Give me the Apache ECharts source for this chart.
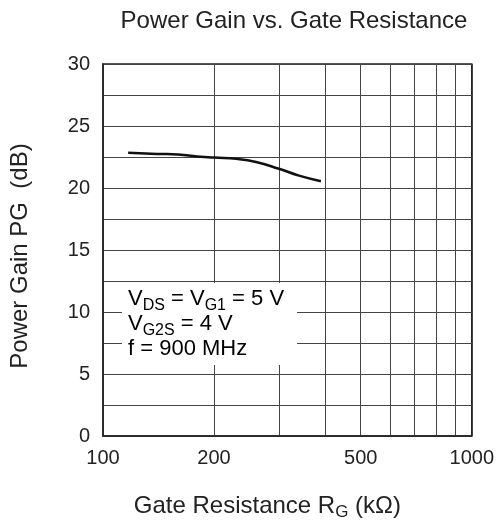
<!DOCTYPE html>
<html>
<head>
<meta charset="utf-8">
<script src="https://cdn.jsdelivr.net/npm/echarts@6/dist/echarts.min.js"></script>
<style>html,body{margin:0;padding:0;background:#fff;}#c{width:497px;height:526px;}</style>
</head>
<body>
<div id="c"></div>
<script>
const resistance = [117, 140, 160, 180, 200, 230, 260, 300, 340, 390];
const powerGain = [22.85, 22.75, 22.7, 22.55, 22.45, 22.35, 22.1, 21.55, 21.0, 20.55];
const xGridValues = [100, 200, 300, 400, 500, 600, 700, 800, 900, 1000];
const xLabelValues = [100, 200, 500, 1000];

const chart = echarts.init(document.getElementById('c'), null, {renderer: 'canvas'});
const FONT = 'Liberation Sans, Arial, sans-serif';
const TXT = '#222';
const option = {
  animation: false,
  backgroundColor: '#fff',
  title: {
    text: 'Power Gain vs. Gate Resistance',
    left: 289, top: 4, textAlign: 'center',
    textStyle: {fontFamily: FONT, fontSize: 24, fontWeight: 'normal', color: TXT}
  },
  grid: {left: 100, right: 24, top: 64, bottom: 88, show: true, borderColor: '#222', borderWidth: 1.5, backgroundColor: 'transparent'},
  xAxis: {
    type: 'log', logBase: 10, min: 100, max: 1000,
    name: 'Gate Resistance R{s|G} (kΩ)',
    nameLocation: 'middle', nameGap: 56,
    nameTextStyle: {fontFamily: FONT, fontSize: 24, color: TXT, padding: [0, 40, 0, 0],
      rich: {s: {fontFamily: FONT, fontSize: 17, color: TXT, padding: [12, 0, 0, 0]}}},
    axisLine: {show: true, lineStyle: {color: '#222', width: 1.5}},
    axisTick: {show: false, customValues: xGridValues},
    axisLabel: {customValues: xLabelValues, formatter: v => String(v), fontFamily: FONT, fontSize: 20, color: TXT, margin: 12},
    splitLine: {show: true, lineStyle: {color: '#444', width: 1}}
  },
  yAxis: {
    type: 'value', min: 0, max: 30, interval: 5,
    name: 'Power Gain PG  (dB)',
    nameLocation: 'middle', nameGap: 71,
    nameTextStyle: {fontFamily: FONT, fontSize: 24, color: TXT, padding: [0, 12, 0, 0]},
    axisLine: {show: true, lineStyle: {color: '#222', width: 1.5}},
    axisTick: {show: false},
    axisLabel: {fontFamily: FONT, fontSize: 20, color: TXT, margin: 13},
    splitLine: {show: true, lineStyle: {color: '#444', width: 1}},
    minorTick: {show: false, splitNumber: 2},
    minorSplitLine: {show: true, lineStyle: {color: '#444', width: 1}}
  },
  series: [{
    type: 'line',
    data: resistance.map((r, i) => [r, powerGain[i]]),
    smooth: true,
    showSymbol: false,
    lineStyle: {color: '#111', width: 2.5},
    z: 5
  }],
  graphic: [{
    type: 'group', left: 122, top: 283, z: 100,
    children: [
      {type: 'rect', z: 100, shape: {x: 0, y: 0, width: 175, height: 82}, style: {fill: '#fff'}},
      {type: 'text', z: 101, x: 6, y: 5, style: {
        text: '{n|V}{s|DS}{n| = V}{s|G1}{n| = 5 V}\n{n|V}{s|G2S}{n| = 4 V}\n{n|f = 900 MHz}',
        rich: {
          n: {fontFamily: FONT, fontSize: 22, color: TXT, lineHeight: 25, verticalAlign: 'top'},
          s: {fontFamily: FONT, fontSize: 16, color: TXT, lineHeight: 25, verticalAlign: 'top', padding: [10, 0, 0, 0]}
        }
      }}
    ]
  }]
};
chart.setOption(option);
</script>
</body>
</html>
